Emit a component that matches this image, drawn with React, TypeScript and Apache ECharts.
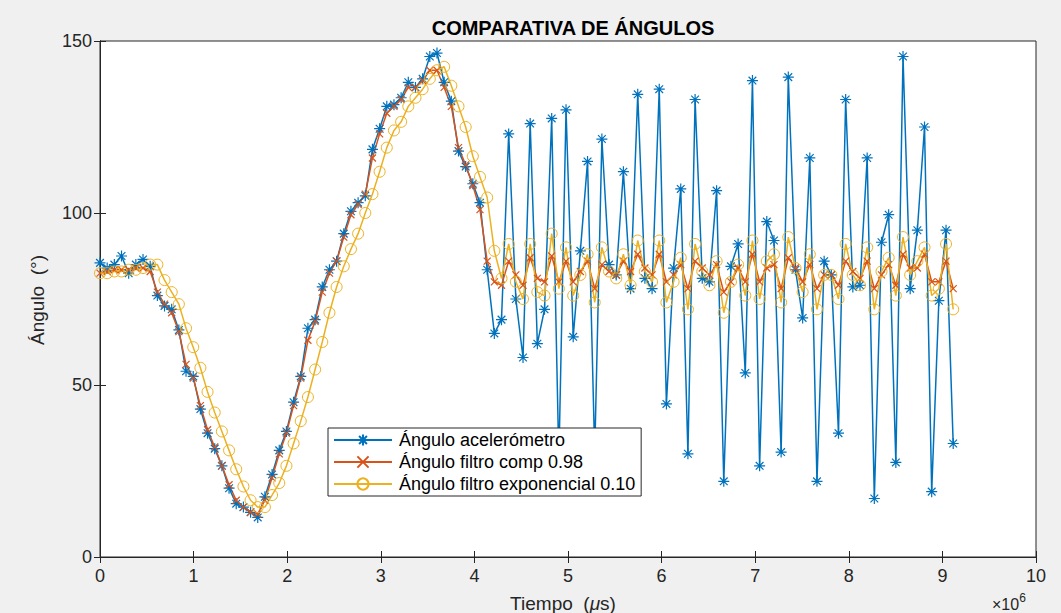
import React, { useEffect, useRef } from "react";
import * as echarts from "echarts";

// Sample spacing (×10^6 µs) between consecutive readings
const SAMPLE_STEP = 0.0766;

const accelAngle = [
  85.5, 84, 85, 87.5, 82.5, 85, 86.5, 84.5, 76, 73,
  72, 66, 54, 52.5, 43, 36, 31.5, 26.5, 20, 15.5,
  14.5, 13, 11.5, 17.5, 24, 31, 36.5, 45, 52.5, 66.5,
  69, 78.5, 83.5, 86, 94, 100.5, 103, 105, 118.5, 124.5,
  131, 131.5, 133.5, 138, 136.5, 139, 145.5, 146.5, 138, 132.5,
  118, 113.5, 108.5, 103, 83.5, 65, 69, 123, 75, 58,
  126, 62, 72, 127.5, 28, 130, 64, 89, 115, 30,
  121.5, 85, 82, 112, 78, 134.5, 81, 78, 136, 44.5,
  84, 107, 30, 133, 81, 80, 106.5, 22, 84.5, 91,
  53.5, 138.5, 26.5, 97.5, 92, 30.5, 139.5, 83.5, 69.5, 116,
  22, 86, 82, 36, 133, 78.5, 79, 116, 17, 91.5,
  99.5, 27.5, 145.5, 78, 95, 125, 19, 74.5, 95, 33,
];

const compAngle = [
  82.5, 83, 83.5, 83.5, 83.5, 84, 84, 83, 77, 73.5,
  71, 65.5, 56, 52, 44, 37, 32, 26.5, 21, 16.5,
  14.5, 13, 12.5, 16.5, 23, 30, 36, 44, 52, 63,
  68.5, 77, 82.5, 86, 93, 99.5, 102.5, 105.5, 116, 123,
  129, 131, 133, 136.5, 136.5, 138.5, 141.5, 141.5, 136.5, 131,
  119, 114, 108, 101, 86, 80, 79, 86, 82, 79,
  87, 81, 80, 87.5, 80, 86, 80, 83, 86, 78,
  85, 83, 82, 86, 83, 88, 84, 82, 88, 80,
  82, 85, 78, 86, 84, 82, 85, 77, 80, 84,
  80, 88, 80, 84, 85, 78, 87, 84, 80, 85,
  78, 82, 82, 79, 86, 83, 81, 86, 78, 82,
  85, 79, 88, 84, 84, 88, 80, 80, 86, 78,
];

const expAngle = [
  82.5, 82.5, 83, 83, 83.5, 83.5, 84, 85, 85, 80.5,
  77, 73.5, 66.5, 61, 55, 48, 42, 36.5, 31, 25.5,
  20.5, 16.5, 14.5, 14.5, 18, 21.5, 26.5, 33, 39.5, 46.5,
  54.5, 62.5, 71, 78.5, 84.5, 89.5, 94, 100, 105.5, 112,
  119, 124, 126.5, 131, 133.5, 136, 139, 141.5, 142.5, 137,
  131, 125, 116.5, 110.5, 104.5, 89, 81, 91, 80, 75,
  91, 77, 76, 94, 78, 90, 76, 82, 88, 74,
  90, 83, 81, 88, 79, 92, 83, 80, 92, 74,
  80, 87, 72, 91, 83, 79, 86, 71, 80, 85,
  76, 92, 75, 86, 88, 74, 93, 84, 77, 88,
  72, 82, 82, 75, 91, 82, 79, 90, 72, 83,
  87, 76, 93, 82, 86, 90, 76, 78, 91, 72,
];

const seriesNames = [
  "Ángulo acelerómetro",
  "Ángulo filtro comp 0.98",
  "Ángulo filtro exponencial 0.10",
];

const xTicks = { min: 0, max: 10, interval: 1 };
const yTicks = { min: 0, max: 150, interval: 50 };

const BLUE = "#0072BD";
const ORANGE = "#D95319";
const YELLOW = "#EDB120";
const AXIS = "#262626";
const FONT = "'Liberation Sans', Arial, Helvetica, sans-serif";

const toPairs = (vals: number[]) =>
  vals.map((v, i) => [Number((i * SAMPLE_STEP).toFixed(4)), v]);

export default function App() {
  const ref = useRef<HTMLDivElement>(null);

  useEffect(() => {
    if (!ref.current) return;
    const chart = echarts.init(ref.current, undefined, { renderer: "svg" });

    const gridLeft = 100;
    const gridTop = 41;
    const gridWidth = 936;
    const gridHeight = 516;

    const axisCommon = {
      axisLine: { show: true, lineStyle: { color: AXIS, width: 1 } },
      axisTick: { show: true, inside: true, length: 6, lineStyle: { color: AXIS, width: 1 } },
      splitLine: { show: false },
    };

    chart.setOption({
      animation: false,
      backgroundColor: "#f0f0f0",
      textStyle: { fontFamily: FONT },
      grid: {
        left: gridLeft,
        top: gridTop,
        width: gridWidth,
        height: gridHeight,
        show: true,
        backgroundColor: "#ffffff",
        borderColor: AXIS,
        borderWidth: 1,
      },
      title: {
        text: "COMPARATIVA DE ÁNGULOS",
        left: 568,
        top: 13,
        textAlign: "center",
        textStyle: { fontSize: 20, fontWeight: "bold", color: "#000", fontFamily: FONT },
      },
      legend: {
        orient: "vertical",
        left: 328,
        top: 428,
        padding: [3, 6, 3, 5],
        itemGap: 4,
        itemWidth: 58,
        itemHeight: 14,
        backgroundColor: "#ffffff",
        borderColor: AXIS,
        borderWidth: 1,
        borderRadius: 0,
        textStyle: { fontSize: 18, color: "#000", fontFamily: FONT, padding: [0, 0, 0, 2] },
        data: seriesNames,
      },
      xAxis: [
        {
          type: "value",
          min: xTicks.min,
          max: xTicks.max,
          interval: xTicks.interval,
          position: "bottom",
          ...axisCommon,
          axisLabel: { fontSize: 18, color: AXIS, margin: 10, fontFamily: FONT },
        },
        {
          type: "value",
          min: xTicks.min,
          max: xTicks.max,
          interval: xTicks.interval,
          position: "top",
          ...axisCommon,
          axisLabel: { show: false },
        },
      ],
      yAxis: [
        {
          type: "value",
          min: yTicks.min,
          max: yTicks.max,
          interval: yTicks.interval,
          position: "left",
          ...axisCommon,
          axisLabel: { fontSize: 18, color: AXIS, margin: 8, fontFamily: FONT },
        },
        {
          type: "value",
          min: yTicks.min,
          max: yTicks.max,
          interval: yTicks.interval,
          position: "right",
          ...axisCommon,
          axisLabel: { show: false },
        },
      ],
      series: [
        {
          name: seriesNames[0],
          type: "line",
          data: toPairs(accelAngle),
          symbol: "path://M5,0L5,10M0,5L10,5M1.5,1.5L8.5,8.5M1.5,8.5L8.5,1.5",
          symbolSize: 11,
          showAllSymbol: true,
          lineStyle: { color: BLUE, width: 1.5 },
          itemStyle: { color: BLUE, borderColor: BLUE, borderWidth: 1.2 },
        },
        {
          name: seriesNames[1],
          type: "line",
          data: toPairs(compAngle),
          symbol: "path://M0,0L10,10M0,10L10,0",
          symbolSize: 7,
          showAllSymbol: true,
          lineStyle: { color: ORANGE, width: 1.5 },
          itemStyle: { color: ORANGE, borderColor: ORANGE, borderWidth: 1.2 },
        },
        {
          name: seriesNames[2],
          type: "line",
          data: toPairs(expAngle),
          symbol: "circle",
          symbolSize: 11,
          showAllSymbol: true,
          lineStyle: { color: YELLOW, width: 1.5 },
          itemStyle: { color: "rgba(255,255,255,0)", borderColor: YELLOW, borderWidth: 1 },
        },
      ],
      graphic: [
        {
          type: "text",
          x: 37,
          y: 300,
          rotation: Math.PI / 2,
          style: {
            text: "Ángulo  (°)",
            fontSize: 19,
            fontFamily: FONT,
            fill: AXIS,
            align: "center",
            verticalAlign: "middle",
          },
        },
        {
          type: "text",
          x: 563,
          y: 603,
          style: {
            text: "{n|Tiempo  (}{i|μ}{n|s)}",
            align: "center",
            verticalAlign: "middle",
            rich: {
              n: { fontSize: 19, fontFamily: FONT, fill: AXIS, color: AXIS },
              i: { fontSize: 19, fontFamily: FONT, fontStyle: "italic", fill: AXIS, color: AXIS },
            },
          },
        },
        {
          type: "text",
          x: 992,
          y: 602,
          style: {
            text: "{a|×10}{b|6}",
            align: "left",
            verticalAlign: "middle",
            rich: {
              a: { fontSize: 16, fontFamily: FONT, fill: AXIS, color: AXIS, verticalAlign: "bottom" },
              b: { fontSize: 12, fontFamily: FONT, fill: AXIS, color: AXIS, verticalAlign: "top", padding: [0, 0, 8, 0] },
            },
          },
        },
      ],
    });

    return () => chart.dispose();
  }, []);

  return (
    <div
      ref={ref}
      style={{ position: "fixed", left: 0, top: 0, width: 1061, height: 613 }}
    />
  );
}
